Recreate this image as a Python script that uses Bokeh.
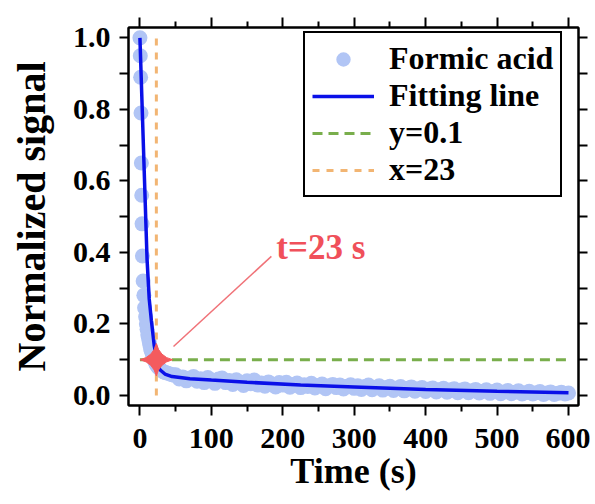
from bokeh.plotting import figure
from bokeh.models import (Range1d, FixedTicker, LinearAxis, Legend, LegendItem,
                          Label, PrintfTickFormatter)
from bokeh.embed import file_html
from bokeh.resources import INLINE

# measured signal (normalized) vs time in seconds
time_s = [0, 0.5, 1, 1.5, 2, 2.5, 3, 3.5, 4.5, 5.5, 6.5,
          8, 9, 10, 11, 12, 13, 14, 15, 16, 17, 18, 19, 20, 21, 22, 23,
          25, 27, 29, 31, 33, 36, 39, 42, 45, 48,
          50, 55, 60, 65, 70, 75, 80, 85, 90, 95, 100, 105, 110, 115, 120,
          125, 130, 135, 140, 145, 150, 155, 160, 165, 170, 175, 180, 185,
          190, 195, 200, 205, 210, 215, 220, 225, 230, 235, 240, 245, 250,
          255, 260, 265, 270, 275, 280, 285, 290, 295, 300, 305, 310, 315,
          320, 325, 330, 335, 340, 345, 350, 355, 360, 365, 370, 375, 380,
          385, 390, 395, 400, 405, 410, 415, 420, 425, 430, 435, 440, 445,
          450, 455, 460, 465, 470, 475, 480, 485, 490, 495, 500, 505, 510,
          515, 520, 525, 530, 535, 540, 545, 550, 555, 560, 565, 570, 575,
          580, 585, 590, 595, 600]
formic_acid = [1.00, 0.95, 0.89, 0.79, 0.65, 0.56, 0.48, 0.39, 0.32, 0.28, 0.245,
               0.22, 0.20, 0.185, 0.17, 0.16, 0.15, 0.14, 0.13, 0.125, 0.118, 0.112, 0.106, 0.10, 0.095, 0.09, 0.086,
               0.080, 0.076, 0.072, 0.069, 0.066, 0.064, 0.062, 0.060, 0.058, 0.057,
               0.058, 0.046, 0.052, 0.041, 0.049, 0.053, 0.040, 0.047, 0.036, 0.050, 0.043, 0.034, 0.046, 0.049, 0.036,
               0.042, 0.031, 0.044, 0.038, 0.028, 0.041, 0.033, 0.043, 0.029, 0.035, 0.026, 0.038, 0.032,
               0.024, 0.036, 0.029, 0.037, 0.023, 0.031, 0.035, 0.022, 0.030, 0.025, 0.034, 0.021, 0.028,
               0.032, 0.019, 0.027, 0.031, 0.022, 0.029, 0.018, 0.026, 0.030, 0.020, 0.027, 0.017, 0.025,
               0.029, 0.016, 0.023, 0.027, 0.015, 0.022, 0.026, 0.014, 0.021, 0.025, 0.013, 0.020, 0.024,
               0.012, 0.019, 0.022, 0.011, 0.018, 0.021, 0.010, 0.017, 0.020, 0.009, 0.016, 0.019, 0.008,
               0.015, 0.018, 0.008, 0.013, 0.017, 0.007, 0.012, 0.016, 0.006, 0.011, 0.015, 0.005, 0.010,
               0.014, 0.005, 0.009, 0.013, 0.004, 0.008, 0.012, 0.004, 0.008, 0.011, 0.003, 0.007, 0.010,
               0.003, 0.006, 0.009, 0.004, 0.007]

# fitted curve
fit_time = [0, 10, 13, 16, 20, 24, 28, 35, 45, 70, 100, 150, 225, 300, 400, 500, 600]
fit_signal = [1.0, 0.38, 0.27, 0.21, 0.14, 0.095, 0.072, 0.060, 0.053, 0.047, 0.043,
              0.037, 0.029, 0.024, 0.017, 0.012, 0.008]

threshold_y = 0.1
crossing_t = 23
hline_t = [0, 600]
vline_y = [0, 1]

x_ticks = [0, 100, 200, 300, 400, 500, 600]
x_minor = [50, 150, 250, 350, 450, 550]
y_ticks = [0.0, 0.2, 0.4, 0.6, 0.8, 1.0]
y_minor = [0.1, 0.3, 0.5, 0.7, 0.9]

FONT = "Liberation Serif"

p = figure(width=590, height=504, output_backend="svg", toolbar_location=None,
           x_range=Range1d(-16, 614), y_range=Range1d(-0.028, 1.029),
           min_border_left=128, min_border_right=12, min_border_top=27,
           min_border_bottom=99)
p.grid.visible = False
p.outline_line_color = "black"
p.outline_line_width = 2
p.outline_line_alpha = 1
p.background_fill_color = "white"


def style_axis(ax, ticks, minor, labels, tick_out, minor_out):
    ax.ticker = FixedTicker(ticks=ticks, minor_ticks=minor)
    ax.axis_line_width = 2
    ax.axis_line_color = "black"
    ax.major_tick_line_width = 2
    ax.minor_tick_line_width = 2
    ax.major_tick_in = 0
    ax.minor_tick_in = 0
    ax.major_tick_out = tick_out
    ax.minor_tick_out = minor_out
    if labels:
        ax.major_label_text_font = FONT
        ax.major_label_text_font_style = "bold"
        ax.major_label_text_font_size = "30px"
        ax.major_label_text_color = "black"
    else:
        # tick marks only, no labels on the mirrored axes
        ax.major_label_text_font_size = "0px"
        ax.major_label_text_color = None
        ax.major_label_standoff = 0


style_axis(p.xaxis[0], x_ticks, x_minor, True, 10, 6)
style_axis(p.yaxis[0], y_ticks, y_minor, True, 9, 9)
p.yaxis[0].formatter = PrintfTickFormatter(format="%.1f")
p.xaxis[0].major_label_standoff = 13
p.yaxis[0].major_label_standoff = 9

p.xaxis[0].axis_label = "Time (s)"
p.yaxis[0].axis_label = "Normalized signal"
for ax in (p.xaxis[0], p.yaxis[0]):
    ax.axis_label_text_font = FONT
    ax.axis_label_text_font_style = "bold"
    ax.axis_label_text_color = "black"
p.xaxis[0].axis_label_text_font_size = "36px"
p.yaxis[0].axis_label_text_font_size = "40px"
p.xaxis[0].axis_label_standoff = 0
p.yaxis[0].axis_label_standoff = 16

top = LinearAxis()
style_axis(top, x_ticks, x_minor, False, 10, 6)
p.add_layout(top, "above")
right = LinearAxis()
style_axis(right, y_ticks, y_minor, False, 9, 9)
p.add_layout(right, "right")

pts = p.scatter(time_s, formic_acid, size=15, fill_color="#b1c5f5",
                line_color=None)
fit = p.line(fit_time, fit_signal, line_color="#0a10e8", line_width=3.5)
hl = p.line(hline_t, [threshold_y, threshold_y], line_color="#79ae4c",
            line_width=3, line_dash="10 6")
vl = p.line([crossing_t, crossing_t], vline_y, line_color="#f2b573",
            line_width=3, line_dash="7 7")
p.scatter([crossing_t], [threshold_y], marker="square_pin", size=23,
          angle=0.785398, fill_color="#f45b5e", line_color="#f45b5e")

# pointer line and label for the crossing time
p.segment(x0=[47], y0=[0.137], x1=[184], y1=[0.389], line_color="#f07278",
          line_width=1.5)
p.add_layout(Label(x=191, y=0.413, text="t=23 s", text_font=FONT,
                   text_font_style="bold", text_font_size="35px",
                   text_color="#f0505a", text_baseline="alphabetic"))

legend = Legend(items=[
    LegendItem(label="Formic acid", renderers=[pts]),
    LegendItem(label="Fitting line", renderers=[fit]),
    LegendItem(label="y=0.1", renderers=[hl]),
    LegendItem(label="x=23", renderers=[vl]),
], location=(175, 208))
legend.label_text_font = FONT
legend.label_text_font_style = "bold"
legend.label_text_font_size = "32px"
legend.label_text_color = "black"
legend.label_height = 36
legend.glyph_height = 36
legend.glyph_width = 62
legend.label_standoff = 15
legend.spacing = 0
legend.padding = 7
legend.margin = 0
legend.border_line_color = "black"
legend.border_line_width = 2
legend.border_line_alpha = 1
legend.background_fill_alpha = 1
p.add_layout(legend)

open("out.html", "w").write(file_html(p, INLINE))
